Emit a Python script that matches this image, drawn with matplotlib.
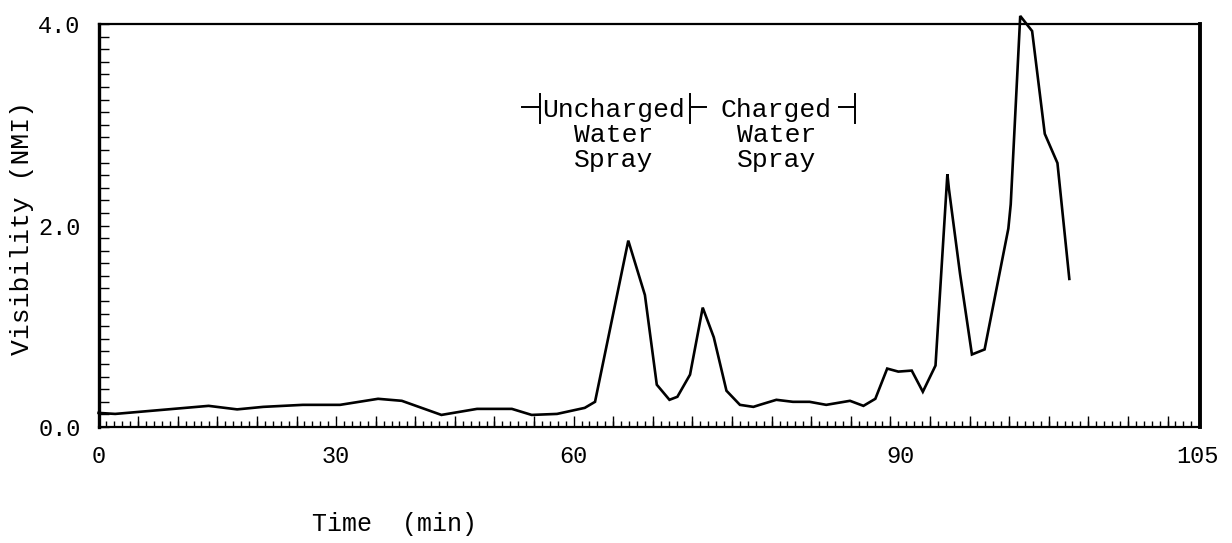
import matplotlib
matplotlib.use("Agg")
import matplotlib.pyplot as plt
from matplotlib.ticker import MultipleLocator, FixedLocator

# ---- data (time in minutes along the drawn scale, visibility in NMI) ----
time_min = [0.0, 2.1, 13.9, 17.5, 20.8, 25.8, 30.5, 32.1, 35.3, 38.3, 43.3, 47.8,
            52.2, 54.7, 57.9, 61.4, 62.7, 66.9, 69.0, 70.5, 72.1, 73.1, 74.7,
            76.3, 77.7, 79.3, 81.0, 82.7, 83.5, 85.6, 87.7, 89.8, 91.9, 94.9,
            96.6, 98.1, 99.6, 101.0, 102.7, 104.1, 105.7, 106.9, 107.2, 107.4,
            108.8, 110.3, 111.9, 114.9, 115.2, 116.4, 117.9, 119.5, 121.1, 122.6]
visibility = [0.14, 0.13, 0.21, 0.175, 0.20, 0.22, 0.22, 0.24, 0.28, 0.26, 0.12, 0.18,
              0.18, 0.12, 0.13, 0.19, 0.25, 1.85, 1.31, 0.42, 0.27, 0.30, 0.52,
              1.185, 0.89, 0.36, 0.22, 0.20, 0.22, 0.27, 0.25, 0.25, 0.22, 0.26,
              0.21, 0.28, 0.58, 0.55, 0.56, 0.35, 0.61, 2.13, 2.51, 2.36,
              1.52, 0.72, 0.77, 1.97, 2.21, 4.08, 3.93, 2.91, 2.62, 1.47]

x_tick_pos = [0, 30, 60, 101.3, 138.8]
x_tick_labels = ["0", "30", "60", "90", "105"]
y_tick_pos = [0.0, 2.0, 4.0]
y_tick_labels = ["0.0", "2.0", "4.0"]

x_max = 139.1
y_max = 4.0

# spray period markers (time) and text
period_bounds = [55.8, 74.7, 95.5]
period_labels = ["Uncharged\nWater\nSpray", "Charged\nWater\nSpray"]

FONT = "Liberation Mono"
plt.rcParams["font.family"] = [FONT, "DejaVu Sans"]

fig = plt.figure(figsize=(12.32, 5.43), dpi=100)
ax = fig.add_axes([0.080, 0.2136, 0.894, 0.7422])

ax.plot(time_min, visibility, color="black", lw=1.9, clip_on=False,
        solid_joinstyle="miter", zorder=3)

ax.set_xlim(0, x_max)
ax.set_ylim(0, y_max)

# labelled ticks (no marks)
ax.xaxis.set_major_locator(FixedLocator(x_tick_pos))
ax.set_xticklabels(x_tick_labels)
ax.tick_params(axis="x", which="major", length=0, pad=13, labelsize=17)
ax.xaxis.set_minor_locator(MultipleLocator(1))
ax.tick_params(axis="x", which="minor", direction="in", length=4, width=1.0)

ax.yaxis.set_major_locator(FixedLocator(y_tick_pos))
ax.set_yticklabels(y_tick_labels)
ax.tick_params(axis="y", which="major", direction="in", length=7, width=1.0,
               pad=13, labelsize=17)
ax.yaxis.set_minor_locator(MultipleLocator(0.125))
ax.tick_params(axis="y", which="minor", direction="in", length=7, width=1.0)

# longer ruler ticks every 5 minutes
ax2 = ax.twiny()
ax2.set_xlim(ax.get_xlim())
ax2.xaxis.set_ticks_position("bottom")
ax2.xaxis.set_major_locator(MultipleLocator(5))
ax2.tick_params(axis="x", which="major", direction="in", length=8, width=1.0,
                labelbottom=False, labeltop=False)
for s in ax2.spines.values():
    s.set_visible(False)

for name, lw in [("left", 2.4), ("right", 2.8), ("top", 1.6), ("bottom", 1.6)]:
    ax.spines[name].set_linewidth(lw)
    ax.spines[name].set_color("black")

# period annotation
bar_lo, bar_hi, dash_y = 3.02, 3.31, 3.18
for b in period_bounds:
    ax.plot([b, b], [bar_lo, bar_hi], color="black", lw=1.4)
ax.plot([period_bounds[0] - 2.3, period_bounds[0]], [dash_y, dash_y], color="black", lw=1.4)
ax.plot([period_bounds[1] + 0.2, period_bounds[1] + 2.0], [dash_y, dash_y], color="black", lw=1.4)
ax.plot([period_bounds[2] - 2.0, period_bounds[2]], [dash_y, dash_y], color="black", lw=1.4)

ax.text(65.1, 2.90, period_labels[0], ha="center", va="center", fontsize=19,
        linespacing=1.05)
ax.text(85.6, 2.90, period_labels[1], ha="center", va="center", fontsize=19,
        linespacing=1.05)

fig.text(0.32, 0.035, "Time  (min)", ha="center", va="center", fontsize=18)
fig.text(0.018, 0.58, "Visibility (NMI)", ha="center", va="center",
         rotation=90, fontsize=19)

fig.savefig("out.png", dpi=100)
